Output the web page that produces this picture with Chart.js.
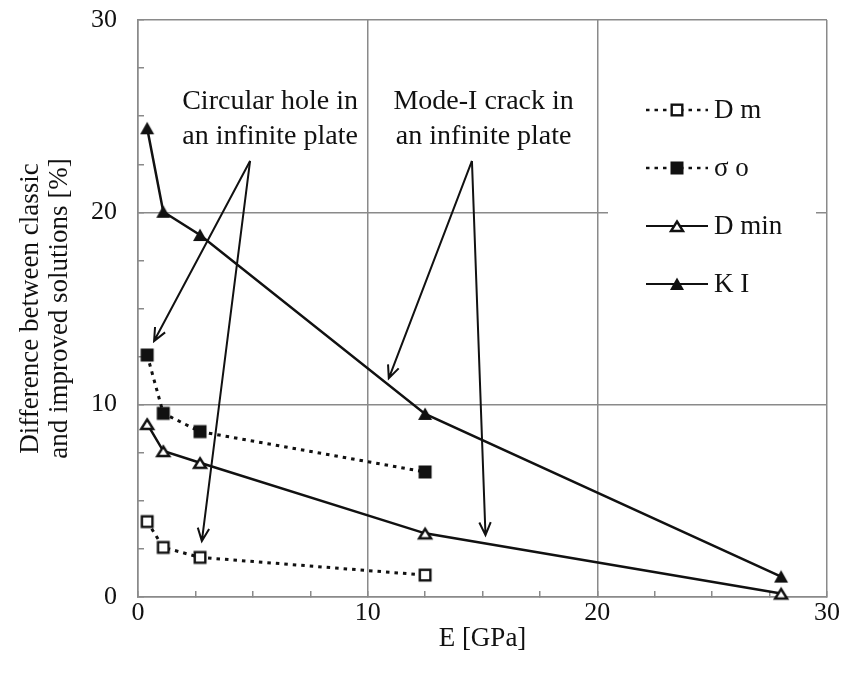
<!DOCTYPE html>
<html>
<head>
<meta charset="utf-8">
<script src="https://cdn.jsdelivr.net/npm/chart.js@4/dist/chart.umd.min.js"></script>
<style>
  html, body { margin: 0; padding: 0; background: #fff; }
  #wrap { width: 844px; height: 674px; }
</style>
</head>
<body>
<div id="wrap"><canvas id="chart" width="844" height="674"></canvas></div>
<script>
// valores
const eGpa = [0.4, 1.1, 2.7, 12.5, 28];
const dM = [3.92, 2.58, 2.06, 1.14];
const sigmaO = [12.58, 9.55, 8.6, 6.5];
const dMin = [9.0, 7.59, 6.98, 3.31, 0.18];
const kI = [24.37, 20.03, 18.82, 9.52, 1.06];
const seriesNames = ['D m', 'σ o', 'D min', 'K I'];
const axisTicks = [0, 10, 20, 30];

// notas con flechas (coordenadas en unidades de los ejes)
const notes = [
    { lines: ['Circular hole in', 'an infinite plate'], x: 5.75, y: 25.74,
      apex: [4.88, 22.67], tips: [[0.70, 13.31], [2.78, 2.91]] },
    { lines: ['Mode-I crack in', 'an infinite plate'], x: 15.05, y: 25.74,
      apex: [14.54, 22.67], tips: [[10.92, 11.37], [15.13, 3.22]] }
];

const FONT = '"Liberation Serif", "Times New Roman", serif';
const GRID = '#8a8a8a';
const INK = '#111';

function marker(shape, filled) {
    const c = document.createElement('canvas');
    c.width = 18;
    c.height = 18;
    const g = c.getContext('2d');
    g.lineWidth = 2.4;
    g.strokeStyle = INK;
    g.fillStyle = filled ? INK : '#fff';
    g.lineJoin = 'miter';
    if (shape === 'square') {
        if (filled) {
            g.fillRect(2.5, 2.5, 13, 13);
        } else {
            g.fillRect(3.7, 3.7, 10.6, 10.6);
            g.strokeRect(3.7, 3.7, 10.6, 10.6);
        }
    } else {
        g.beginPath();
        if (filled) {
            g.moveTo(9, 2.5); g.lineTo(16, 15); g.lineTo(2, 15);
            g.closePath();
            g.fill();
        } else {
            g.moveTo(9, 4.5); g.lineTo(15, 14); g.lineTo(3, 14);
            g.closePath();
            g.fill();
            g.stroke();
        }
    }
    return c;
}

function pts(ys) {
    return ys.map((y, i) => ({ x: eGpa[i], y: y }));
}

const markers = [
    marker('square', false),
    marker('square', true),
    marker('triangle', false),
    marker('triangle', true)
];
const dashes = [[3.5, 5], [3.5, 5], [], []];

const datasets = [dM, sigmaO, dMin, kI].map((ys, i) => ({
    label: seriesNames[i],
    data: pts(ys),
    borderColor: INK,
    borderWidth: i < 2 ? 3 : 2.5,
    borderDash: dashes[i],
    tension: 0,
    pointStyle: markers[i],
    pointRadius: 6,
    clip: false
}));

function drawArrow(ctx, x1, y1, x2, y2) {
    const a = Math.atan2(y2 - y1, x2 - x1);
    const len = 14, spread = 0.42;
    ctx.beginPath();
    ctx.moveTo(x1, y1);
    ctx.lineTo(x2, y2);
    ctx.moveTo(x2 - len * Math.cos(a - spread), y2 - len * Math.sin(a - spread));
    ctx.lineTo(x2, y2);
    ctx.lineTo(x2 - len * Math.cos(a + spread), y2 - len * Math.sin(a + spread));
    ctx.stroke();
}

const extras = {
    id: 'extras',
    afterDatasetsDraw(chart) {
        const ctx = chart.ctx;
        const xs = chart.scales.x;
        const ys = chart.scales.y;
        const area = chart.chartArea;

        ctx.save();
        // notas y flechas
        ctx.fillStyle = INK;
        ctx.strokeStyle = INK;
        ctx.lineWidth = 2;
        ctx.font = '28px ' + FONT;
        ctx.textAlign = 'center';
        ctx.textBaseline = 'middle';
        notes.forEach(n => {
            const px = xs.getPixelForValue(n.x);
            const py = ys.getPixelForValue(n.y);
            n.lines.forEach((t, k) => ctx.fillText(t, px, py + k * 35));
            const ax = xs.getPixelForValue(n.apex[0]);
            const ay = ys.getPixelForValue(n.apex[1]);
            n.tips.forEach(tp => {
                drawArrow(ctx, ax, ay, xs.getPixelForValue(tp[0]), ys.getPixelForValue(tp[1]));
            });
        });

        // leyenda
        const left = area.right - 219;
        const top = area.top + 50;
        ctx.fillStyle = '#fff';
        ctx.fillRect(left, top, 208, 245);
        ctx.font = '27px ' + FONT;
        ctx.textAlign = 'left';
        chart.data.datasets.forEach((ds, i) => {
            const y = area.top + 90 + i * 58;
            const x0 = area.right - 181;
            const x1 = area.right - 119;
            ctx.strokeStyle = INK;
            ctx.lineWidth = ds.borderWidth - 0.5;
            ctx.setLineDash(ds.borderDash);
            ctx.beginPath();
            ctx.moveTo(x0, y);
            ctx.lineTo(x1, y);
            ctx.stroke();
            ctx.setLineDash([]);
            const m = ds.pointStyle;
            ctx.drawImage(m, (x0 + x1) / 2 - m.width / 2, y - m.height / 2);
            ctx.fillStyle = INK;
            ctx.fillText(ds.label, x1 + 6, y + 1);
        });
        ctx.restore();
    }
};

function tickLabel(v) {
    return axisTicks.includes(v) ? String(v) : '';
}

function gridColor(c) {
    return c.tick && axisTicks.includes(c.tick.value) ? GRID : 'rgba(0,0,0,0)';
}

new Chart(document.getElementById('chart'), {
    type: 'line',
    data: { datasets: datasets },
    plugins: [extras],
    options: {
        responsive: false,
        animation: false,
        devicePixelRatio: 1,
        layout: { padding: { left: 0, top: 20, right: 17, bottom: 0 } },
        plugins: {
            legend: { display: false },
            tooltip: { enabled: false }
        },
        scales: {
            x: {
                type: 'linear',
                min: 0,
                max: 30,
                afterFit: s => {
                    s.height = 77;
                    s.paddingLeft = 0;
                    s.paddingRight = 0;
                },
                ticks: {
                    stepSize: 2.5,
                    autoSkip: false,
                    maxRotation: 0,
                    padding: 7,
                    color: INK,
                    font: { family: FONT, size: 26 },
                    callback: tickLabel
                },
                grid: {
                    color: gridColor,
                    lineWidth: 1.5,
                    tickColor: GRID,
                    tickLength: -6,
                    tickWidth: 1.5
                },
                border: { color: GRID, width: 1.5 },
                title: {
                    display: true,
                    text: 'E [GPa]',
                    color: INK,
                    font: { family: FONT, size: 27, lineHeight: 1.05 },
                    padding: { top: 0, bottom: 21 }
                }
            },
            y: {
                type: 'linear',
                min: 0,
                max: 30,
                afterFit: s => {
                    s.width = 138;
                    s.paddingTop = 0;
                    s.paddingBottom = 0;
                },
                ticks: {
                    stepSize: 2.5,
                    autoSkip: false,
                    padding: 27,
                    color: INK,
                    font: { family: FONT, size: 26 },
                    callback: tickLabel
                },
                grid: {
                    color: gridColor,
                    lineWidth: 1.5,
                    tickColor: GRID,
                    tickLength: -6,
                    tickWidth: 1.5
                },
                border: { color: GRID, width: 1.5 },
                title: {
                    display: true,
                    text: ['Difference between classic', 'and improved solutions [%]'],
                    color: INK,
                    font: { family: FONT, size: 27, lineHeight: 1.05 },
                    padding: { top: 17, bottom: 0 }
                }
            }
        }
    }
});
</script>
</body>
</html>
